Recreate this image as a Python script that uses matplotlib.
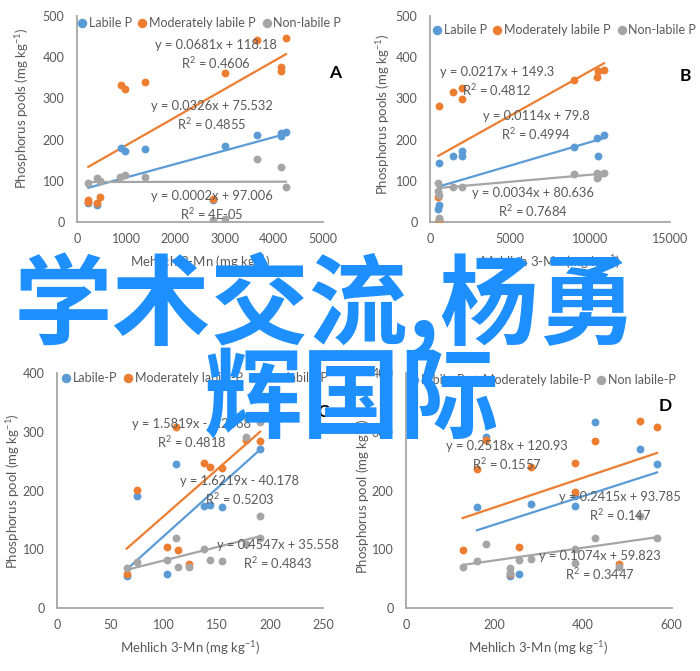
import numpy as np
import matplotlib
matplotlib.use("Agg")
import matplotlib.pyplot as plt
from matplotlib.lines import Line2D

plt.rcParams["font.family"] = ["Lato", "DejaVu Sans"]
plt.rcParams["mathtext.fontset"] = "custom"
plt.rcParams["mathtext.rm"] = "Lato"
plt.rcParams["mathtext.it"] = "Lato:italic"
plt.rcParams["mathtext.bf"] = "Lato:bold"

# ---- data ----
# panel A
a_lab_x = [230, 400, 888, 976, 1382, 2771, 3008, 3652, 4146, 4146, 4248]
a_lab_y = [47, 41, 179, 173, 177, 53, 185, 211, 215, 209, 218]
a_mod_x = [230, 230, 400, 467, 888, 976, 1382, 2771, 3008, 3652, 4146, 4146, 4248]
a_mod_y = [53, 48, 45, 61, 332, 322, 341, 57, 362, 442, 377, 366, 446]
a_non_x = [230, 400, 467, 874, 976, 1382, 2771, 3008, 3652, 4146, 4248]
a_non_y = [95, 106, 100, 110, 114, 110, 5, 7, 153, 134, 86]
a_fit = [(0.0326, 75.532), (0.0681, 118.18), (0.0002, 97.006)]
a_eq = ["y = 0.0326x + 75.532\nR$^2$ = 0.4855",
        "y = 0.0681x + 118.18\nR$^2$ = 0.4606",
        "y = 0.0002x + 97.006\nR$^2$ = 4E-05"]

# panel B
b_lab_x = [521, 562, 583, 583, 1417, 1979, 1979, 9000, 10417, 10521, 10875]
b_lab_y = [31, 142, 41, 5, 160, 172, 160, 183, 205, 159, 210]
b_mod_x = [521, 562, 583, 1417, 1979, 1979, 9000, 10417, 10521, 10875]
b_mod_y = [60, 282, 5, 315, 326, 299, 345, 351, 367, 369]
b_non_x = [521, 521, 562, 583, 1458, 1979, 9000, 10417, 10417, 10521, 10875]
b_non_y = [95, 76, 65, 10, 86, 86, 117, 120, 106, 112, 118]
b_fit = [(0.0114, 79.8), (0.0217, 149.3), (0.0034, 80.636)]
b_eq = ["y = 0.0114x + 79.8\nR$^2$ = 0.4994",
        "y = 0.0217x + 149.3\nR$^2$ = 0.4812",
        "y = 0.0034x + 80.636\nR$^2$ = 0.7684"]

# panel C
c_lab_x = [65.5, 75.5, 103, 112, 138, 144, 155, 191]
c_lab_y = [54, 191, 59, 245, 174, 175, 172, 270]
c_mod_x = [65.5, 75.5, 103, 112, 114, 124, 138, 144, 155, 178, 191]
c_mod_y = [59, 200, 103.5, 308, 99, 76, 247, 240, 238, 286, 284]
c_non_x = [65.5, 75.5, 103, 112, 114, 124, 138, 144, 155, 178, 178, 191, 191, 191]
c_non_y = [68, 79, 82, 119, 70, 70, 101, 82, 80, 110, 290, 157, 119, 317]
c_fit = [(1.6219, -40.178), (1.5819, -2.2668), (0.4547, 35.558)]
c_eq = ["y = 1.6219x - 40.178\nR$^2$ = 0.5203",
        "y = 1.5819x - 2.2668\nR$^2$ = 0.4818",
        "y = 0.4547x + 35.558\nR$^2$ = 0.4843"]

# panel D
d_lab_x = [160, 181, 235, 255, 282, 381, 381, 427, 528, 567]
d_lab_y = [172.5, 290, 54, 59, 177, 174, 190, 317, 270, 245]
d_mod_x = [128, 160, 181, 235, 255, 282, 381, 381, 427, 481.5, 528, 567]
d_mod_y = [99, 236, 286, 58, 103.5, 240, 198, 246, 284, 76, 318.5, 308]
d_non_x = [128, 160, 181, 235, 235, 255, 282, 381, 381, 427, 481.5, 528, 567]
d_non_y = [70, 80, 110, 68, 60, 82, 83, 101, 77, 119, 70, 157, 119]
d_fit = [(0.2415, 93.785), (0.2518, 120.93), (0.1074, 59.823)]
d_eq = ["y = 0.2415x + 93.785\nR$^2$ = 0.147",
        "y = 0.2518x + 120.93\nR$^2$ = 0.1557",
        "y = 0.1074x + 59.823\nR$^2$ = 0.3447"]

names_top = ["Labile P", "Moderately labile P", "Non-labile P"]
names_bot = ["Labile-P", "Moderately labile-P", "Non labile-P"]
xlabel = "Mehlich 3-Mn (mg kg$^{-1}$)"

colors = ["#5B9BD5", "#ED7D31", "#A5A5A5"]
txt_col = "#595959"
W, H = 700, 671

fig = plt.figure(figsize=(7, 6.71), dpi=100)


def px(x, y):
    return x / W, 1 - y / H


def panel(rect, series, fits, xlim, xticks, ylim, yticks):
    l, t, r, b = rect
    ax = fig.add_axes([l / W, 1 - b / H, (r - l) / W, (b - t) / H])
    for (xs, ys), (m, c), col in zip(series, fits, colors):
        ax.scatter(xs, ys, s=32, color=col, zorder=3, linewidths=0)
        xx = np.array([min(xs), max(xs)])
        ax.plot(xx, m * xx + c, color=col, lw=1.6, zorder=2)
    ax.set_xlim(*xlim)
    ax.set_ylim(*ylim)
    ax.set_xticks(xticks)
    ax.set_yticks(yticks)
    for s in ["top", "right"]:
        ax.spines[s].set_visible(False)
    for s in ["left", "bottom"]:
        ax.spines[s].set_color("#A6A6A6")
        ax.spines[s].set_linewidth(1.3)
    ax.tick_params(length=0, labelsize=9, labelcolor=txt_col)
    ax.tick_params(axis="y", pad=9)
    ax.tick_params(axis="x", pad=8)
    ax.patch.set_alpha(0)
    return ax


def legend(ax, names, x, y):
    handles = [Line2D([], [], ls="none", marker="o", ms=5.8, color=c, mec=c) for c in colors]
    ax.legend(handles, names, loc="center left", bbox_to_anchor=px(x, y),
              bbox_transform=fig.transFigure, ncol=3, frameon=False,
              handlelength=0.6, handletextpad=0.25, columnspacing=0.55,
              borderpad=0, borderaxespad=0, fontsize=9, labelcolor=txt_col)


def eqs(texts, pos):
    for t, (x, y) in zip(texts, pos):
        fig.text(*px(x, y), t, ha="center", va="center", fontsize=9.3,
                 color=txt_col, linespacing=1.3)


axA = panel((77, 16, 323, 222),
            [(a_lab_x, a_lab_y), (a_mod_x, a_mod_y), (a_non_x, a_non_y)], a_fit,
            (0, 5000), range(0, 5001, 1000), (0, 500), range(0, 501, 100))
legend(axA, names_top, 78, 23)
eqs(a_eq, [(212, 116), (216, 55), (212, 206)])
fig.text(*px(335, 73), "A", fontsize=12.5, fontweight="bold", ha="center", va="center")

axB = panel((430, 16, 670, 222),
            [(b_lab_x, b_lab_y), (b_mod_x, b_mod_y), (b_non_x, b_non_y)], b_fit,
            (0, 15000), range(0, 15001, 5000), (0, 500), range(0, 501, 100))
legend(axB, names_top, 433, 30)
eqs(b_eq, [(536, 126), (497, 82), (533, 203)])
fig.text(*px(685, 76), "B", fontsize=12.5, fontweight="bold", ha="center", va="center")

axC = panel((57, 372.7, 323, 608.3),
            [(c_lab_x, c_lab_y), (c_mod_x, c_mod_y), (c_non_x, c_non_y)], c_fit,
            (0, 250), range(0, 251, 50), (0, 400), range(0, 401, 100))
legend(axC, names_bot, 62, 378)
eqs(c_eq, [(240, 491), (192, 434), (278, 555)])
fig.text(*px(323, 412), "C", fontsize=12.5, fontweight="bold", ha="center", va="center")

axD = panel((406, 372.7, 671.7, 608.3),
            [(d_lab_x, d_lab_y), (d_mod_x, d_mod_y), (d_non_x, d_non_y)], d_fit,
            (0, 600), range(0, 601, 200), (0, 400), range(0, 401, 100))
legend(axD, names_bot, 410, 380)
eqs(d_eq, [(620, 507), (507, 456), (600, 566)])
fig.text(*px(665, 406), "D", fontsize=12.5, fontweight="bold", ha="center", va="center")

# axis titles
for x, y, t in [(22, 108, "Phosphorus pools (mg kg$^{-1}$)"),
                (383, 114, "Phosphorus pools (mg kg$^{-1}$)"),
                (13, 491, "Phosphorus pool (mg kg$^{-1}$)"),
                (363, 496, "Phosphorus pool (mg kg$^{-1}$)")]:
    fig.text(*px(x, y), t, rotation=90, ha="center", va="center", fontsize=9.5, color=txt_col)
for x, y in [(200, 262), (550, 262), (190, 648), (538, 648)]:
    fig.text(*px(x, y), xlabel, ha="center", va="center", fontsize=9.5, color=txt_col)

# watermark text on top
wm_col = "#1E8FFF"
cjk = ["Noto Sans CJK SC", "DejaVu Sans"]
fig.text(*px(14, 305), "学术交流,杨勇", fontsize=71, fontweight="bold", color=wm_col,
         ha="left", va="center", family=cjk, zorder=10)
fig.text(*px(204, 401), "辉国际", fontsize=71, fontweight="bold", color=wm_col,
         ha="left", va="center", family=cjk, zorder=10)

fig.savefig("out.png", dpi=100)
